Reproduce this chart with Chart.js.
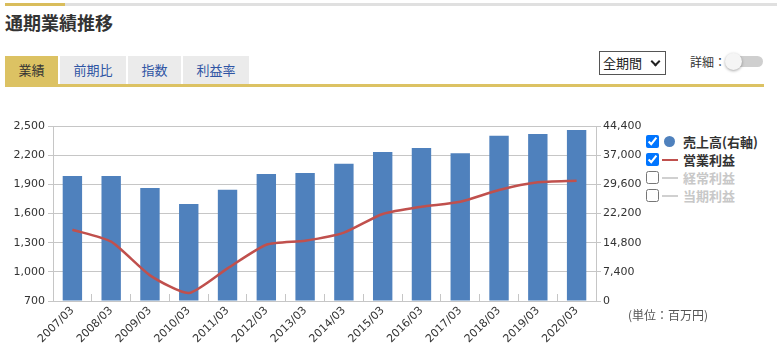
<!DOCTYPE html>
<html lang="ja">
<head>
<meta charset="utf-8">
<script src="https://cdn.jsdelivr.net/npm/chart.js@4"></script>
<style>
  html, body { margin: 0; padding: 0; background: #fff; }
  body { width: 777px; height: 353px; position: relative; overflow: hidden;
         font-family: "Noto Sans CJK JP", "Noto Sans", sans-serif; color: #333; }
  .topbar { position: absolute; left: 5px; top: 3px; width: 772px; height: 3px; background: #e0e0e0; }
  .topbar i { position: absolute; left: 0; top: 0; width: 60px; height: 3px; background: #d9bd5c; }
  .title { position: absolute; left: 5px; top: 9px; font-size: 18px; font-weight: bold; line-height: 26px; color: #333; }
  .tab { position: absolute; top: 56px; height: 28px; line-height: 28px; font-size: 13px; text-align: center;
         background: #ebebeb; color: #2f55a4; }
  .tab.on { background: #dcc263; color: #333; }
  .tabline { position: absolute; left: 5px; top: 84px; width: 759px; height: 3px; background: #dcc263; }
  .sel { position: absolute; left: 599px; top: 51px; width: 62px; height: 22px; border: 1px solid #555;
         font-size: 13px; line-height: 22px; padding-left: 3px; box-sizing: content-box; color: #222; }
  .sel span { position: absolute; right: 6px; top: 6px; width: 5px; height: 5px;
              border-right: 2px solid #222; border-bottom: 2px solid #222; transform: rotate(45deg); }
  .detail { position: absolute; left: 690px; top: 53px; font-size: 12px; line-height: 18px; color: #333; }
  .track { position: absolute; left: 733px; top: 56px; width: 30px; height: 11px; border-radius: 6px; background: #cfcfcf; }
  .knob { position: absolute; left: 725px; top: 53px; width: 17px; height: 17px; border-radius: 50%; background: #f5f5f5;
          box-shadow: 0 1px 3px rgba(0,0,0,0.35); }
  #chartwrap { position: absolute; left: 0; top: 110px; width: 645px; height: 243px; }
  .legend { position: absolute; left: 646px; top: 133px; font-size: 13px; font-weight: bold; }
  .row { position: relative; height: 18px; line-height: 18px; }
  .row input { position: absolute; left: 0; top: 2px; margin: 0; width: 13px; height: 13px; }
  .row .mk { position: absolute; left: 16px; top: 8px; width: 16px; height: 2px; }
  .row .dot { position: absolute; left: 18px; top: 3px; width: 11px; height: 11px; border-radius: 50%; background: #4f81bd; }
  .row .tx { position: absolute; left: 37px; top: 0; white-space: nowrap; }
  .row.off .tx { color: #c8c8c8; }
  .unit { position: absolute; left: 628px; top: 306px; font-size: 12px; color: #555; line-height: 18px; }
</style>
</head>
<body>
<div class="topbar"><i></i></div>
<div class="title">通期業績推移</div>
<div class="tab on" style="left:5px;width:53px;">業績</div>
<div class="tab" style="left:60px;width:66px;">前期比</div>
<div class="tab" style="left:128px;width:53px;">指数</div>
<div class="tab" style="left:183px;width:66px;">利益率</div>
<div class="tabline"></div>
<div class="sel">全期間<span></span></div>
<div class="detail">詳細：</div>
<div class="track"></div>
<div class="knob"></div>

<div id="chartwrap"><canvas id="c" width="645" height="243"></canvas></div>

<div class="legend">
  <div class="row"><input type="checkbox" checked><span class="dot"></span><span class="tx">売上高(右軸)</span></div>
  <div class="row"><input type="checkbox" checked><span class="mk" style="background:#c0504d"></span><span class="tx">営業利益</span></div>
  <div class="row off"><input type="checkbox"><span class="mk" style="background:#d0d0d0"></span><span class="tx">経常利益</span></div>
  <div class="row off"><input type="checkbox"><span class="mk" style="background:#d0d0d0"></span><span class="tx">当期利益</span></div>
</div>
<div class="unit">(単位：百万円)</div>

<script>
const categories = ["2007/03","2008/03","2009/03","2010/03","2011/03","2012/03","2013/03",
                    "2014/03","2015/03","2016/03","2017/03","2018/03","2019/03","2020/03"];
// 売上高 (right axis, 百万円)
const sales = [31700, 31700, 28700, 24600, 28200, 32200, 32500,
               34800, 37800, 38800, 37500, 41900, 42400, 43400];
// 営業利益 (left axis, 百万円)
const operatingProfit = [1433, 1310, 964, 782, 1036, 1279, 1320,
                         1403, 1595, 1670, 1721, 1842, 1921, 1937];
const leftTicks = { min: 700, max: 2500, step: 300 };
const rightTicks = { min: 0, max: 44400, step: 7400 };

const fmt = v => Number(v).toLocaleString('en-US');
const tickFont = { family: "'DejaVu Sans', Verdana, sans-serif", size: 11 };
const gridColor = '#c6c6c6';

new Chart(document.getElementById('c'), {
  data: {
    labels: categories,
    datasets: [
      { type: 'line', label: '営業利益', data: operatingProfit, yAxisID: 'y',
        borderColor: '#c0504d', borderWidth: 2.5, pointRadius: 0, tension: 0.2, order: 0 },
      { type: 'bar', label: '売上高(右軸)', data: sales, yAxisID: 'y1',
        backgroundColor: '#4f81bd', barPercentage: 0.5, categoryPercentage: 1, order: 1 }
    ]
  },
  options: {
    responsive: false,
    animation: false,
    events: [],
    layout: { padding: { top: 16, left: 0, right: 0, bottom: 0 } },
    plugins: { legend: { display: false }, tooltip: { enabled: false } },
    scales: {
      x: {
        offset: true,
        grid: { offset: true, drawOnChartArea: false, drawTicks: true, tickLength: -7, color: gridColor },
        border: { color: gridColor },
        ticks: { font: tickFont, color: '#333', minRotation: 45, maxRotation: 45, autoSkip: false, padding: 10 },
        afterFit: s => { s.height = 52; }
      },
      y: {
        position: 'left',
        min: leftTicks.min, max: leftTicks.max,
        ticks: { stepSize: leftTicks.step, font: tickFont, color: '#333', padding: 3, callback: v => fmt(v) },
        grid: { color: gridColor, tickLength: 5 },
        border: { color: gridColor },
        afterFit: s => { s.width = 53; }
      },
      y1: {
        position: 'right',
        min: rightTicks.min, max: rightTicks.max,
        ticks: { stepSize: rightTicks.step, font: tickFont, color: '#333', padding: 2, callback: v => fmt(v) },
        grid: { drawOnChartArea: false, color: gridColor, tickLength: 5 },
        border: { color: gridColor },
        afterFit: s => { s.width = 49; }
      }
    }
  }
});
</script>
</body>
</html>
